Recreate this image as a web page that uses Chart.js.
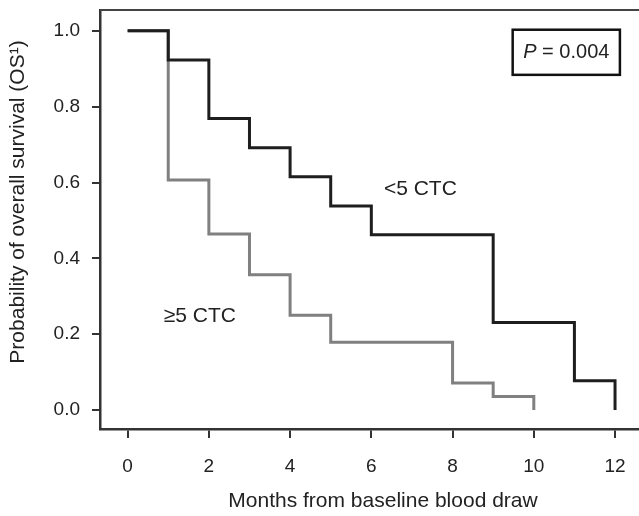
<!DOCTYPE html>
<html>
<head>
<meta charset="utf-8">
<script src="https://cdn.jsdelivr.net/npm/chart.js@4/dist/chart.umd.min.js"></script>
<style>
  html, body { margin: 0; padding: 0; background: #fff; }
  #wrap { width: 639px; height: 516px; }
</style>
</head>
<body>
<div id="wrap"><canvas id="osChart"></canvas></div>
<script>
// Kaplan-Meier steps (months, survival probability)
const lowMonths = [0, 1, 2, 3, 4, 5, 6, 9, 11, 12];
const lowSurvival = [1.0, 0.923, 0.769, 0.692, 0.615, 0.538, 0.462, 0.231, 0.077, 0.0];
const highMonths = [0, 1, 2, 3, 4, 5, 8, 9, 10];
const highSurvival = [1.0, 0.607, 0.464, 0.357, 0.25, 0.179, 0.071, 0.036, 0.0];

const xTicks = [0, 2, 4, 6, 8, 10, 12];
const yTicks = [0.0, 0.2, 0.4, 0.6, 0.8, 1.0];

const FONT = "'Liberation Sans', Arial, Helvetica, sans-serif";
const INK = "#222";

const toPoints = (xs, ys) => xs.map((x, i) => ({ x: x, y: ys[i] }));

// titles, group labels, the P box and the top frame line
const extras = {
  id: "extras",
  afterDraw(chart) {
    const ctx = chart.ctx;
    const area = chart.chartArea;
    const xs = chart.scales.x;
    const ys = chart.scales.y;
    ctx.save();

    // top frame line
    ctx.strokeStyle = "#444";
    ctx.lineWidth = 2;
    ctx.beginPath();
    ctx.moveTo(area.left, area.top);
    ctx.lineTo(area.right, area.top);
    ctx.stroke();

    ctx.fillStyle = INK;
    ctx.font = "21px " + FONT;
    ctx.textBaseline = "middle";

    // group labels
    ctx.textAlign = "left";
    ctx.fillText("<5 CTC", xs.getPixelForValue(6.31), ys.getPixelForValue(0.583));
    ctx.fillText("\u22655 CTC", xs.getPixelForValue(0.89), ys.getPixelForValue(0.247));

    // axis titles
    ctx.textAlign = "center";
    ctx.fillText("Months from baseline blood draw", 383, 501);
    ctx.save();
    ctx.translate(18, 202);
    ctx.rotate(-Math.PI / 2);
    ctx.fillText("Probability of overall survival (OS\u00b9)", 0, 0);
    ctx.restore();

    // P value box
    const bl = xs.getPixelForValue(9.48), br = xs.getPixelForValue(12.12);
    const bt = ys.getPixelForValue(1.003), bb = ys.getPixelForValue(0.884);
    ctx.strokeStyle = "#111";
    ctx.lineWidth = 2.5;
    ctx.strokeRect(bl, bt, br - bl, bb - bt);
    const cy = (bt + bb) / 2;
    ctx.textAlign = "left";
    ctx.font = "italic 20px " + FONT;
    const pW = ctx.measureText("P").width;
    ctx.font = "20px " + FONT;
    const rest = " = 0.004";
    const total = pW + ctx.measureText(rest).width;
    const sx = (bl + br) / 2 - total / 2;
    ctx.font = "italic 20px " + FONT;
    ctx.fillText("P", sx, cy);
    ctx.font = "20px " + FONT;
    ctx.fillText(rest, sx + pW, cy);

    ctx.restore();
  }
};

new Chart(document.getElementById("osChart"), {
  type: "line",
  data: {
    datasets: [
      {
        label: "<5 CTC",
        data: toPoints(lowMonths, lowSurvival),
        borderColor: "#1e1e1e",
        borderWidth: 3,
        stepped: "before",
        pointRadius: 0,
        fill: false
      },
      {
        label: "\u22655 CTC",
        data: toPoints(highMonths, highSurvival),
        borderColor: "#808080",
        borderWidth: 3,
        stepped: "before",
        pointRadius: 0,
        fill: false
      }
    ]
  },
  options: {
    responsive: true,
    maintainAspectRatio: false,
    animation: false,
    layout: { padding: { top: 10, right: 0, bottom: 0, left: 0 } },
    plugins: {
      legend: { display: false },
      tooltip: { enabled: false }
    },
    scales: {
      x: {
        type: "linear",
        min: -0.68,
        max: 12.59,
        afterBuildTicks: scale => { scale.ticks = xTicks.map(v => ({ value: v })); },
        afterFit: scale => {
          scale.height = 87;
          scale.paddingLeft = 0;
          scale.paddingRight = 0;
        },
        ticks: {
          color: INK,
          font: { family: FONT, size: 19 },
          padding: 17,
          maxRotation: 0
        },
        grid: { drawOnChartArea: false, drawTicks: true, tickLength: 9, color: "#333", lineWidth: 2 },
        border: { color: "#333", width: 2.5 }
      },
      y: {
        min: -0.05,
        max: 1.055,
        afterBuildTicks: scale => { scale.ticks = yTicks.map(v => ({ value: v })); },
        afterFit: scale => {
          scale.width = 100;
          scale.paddingTop = 0;
          scale.paddingBottom = 0;
        },
        ticks: {
          color: INK,
          font: { family: FONT, size: 19 },
          padding: 12,
          callback: v => v.toFixed(1)
        },
        grid: { drawOnChartArea: false, drawTicks: true, tickLength: 8, color: "#333", lineWidth: 2 },
        border: { color: "#333", width: 2.5 }
      }
    }
  },
  plugins: [extras]
});
</script>
</body>
</html>
